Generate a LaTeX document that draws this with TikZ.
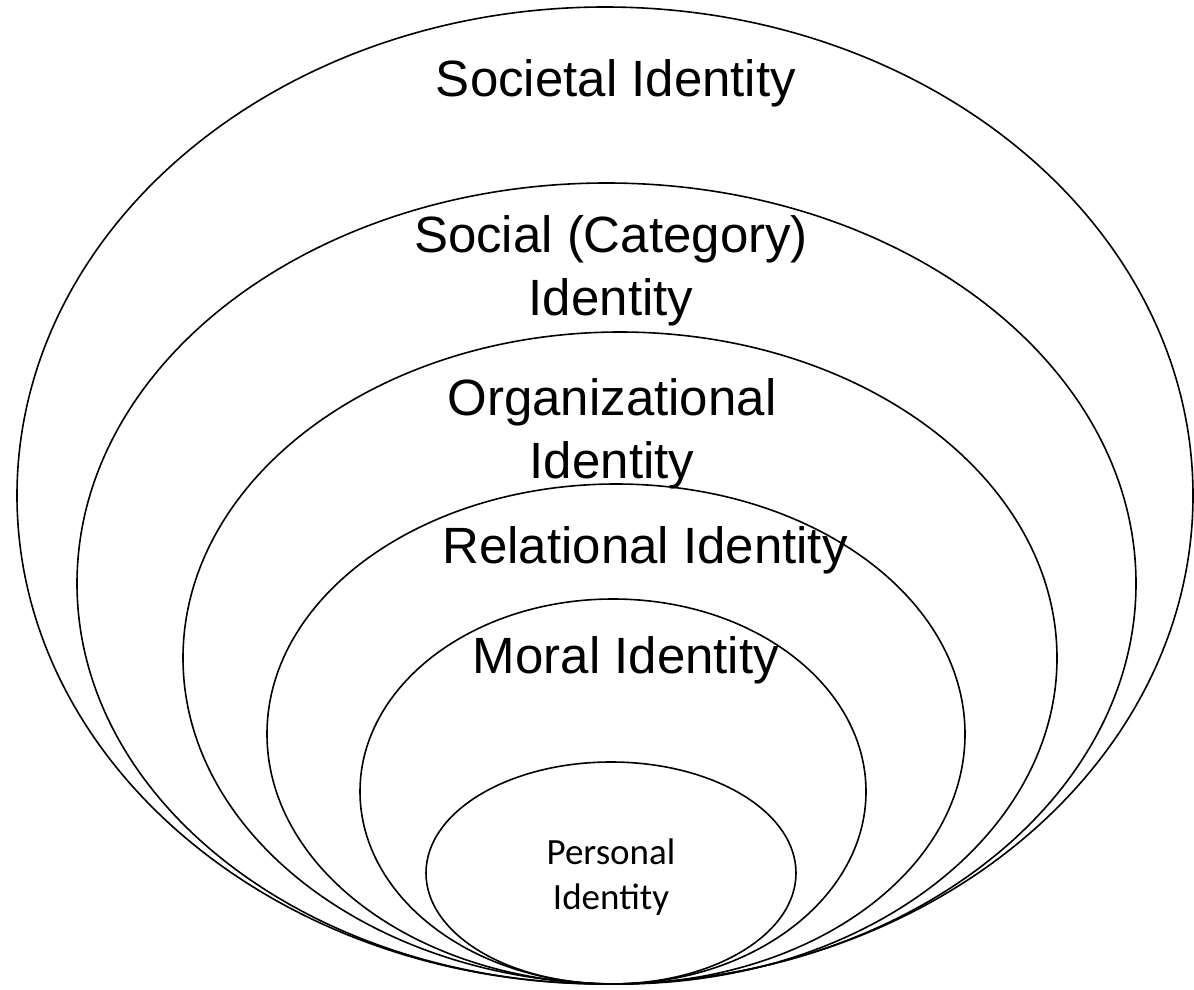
\documentclass[tikz,border=0pt]{standalone}
\usepackage{fontspec}
\setmainfont{Liberation Sans}
\newfontfamily\calibrifont{Carlito}
\begin{document}
\begin{tikzpicture}[x=1pt,y=-1pt,
  ring/.style={draw=black,line width=1.6pt},
  biglabel/.style={font=\fontsize{51}{63}\selectfont,align=center,inner sep=0pt,anchor=base},
  smalllabel/.style={font=\calibrifont\fontsize{37}{45}\selectfont,align=center,inner sep=0pt,anchor=base}]
\useasboundingbox (0,0) rectangle (1194,990);
% rings, outermost first
\draw[ring] (605,495.5) ellipse [x radius=588, y radius=488.5];
\draw[ring] (606.5,583.5) ellipse [x radius=529.5, y radius=400.5];
\draw[ring] (620,658) ellipse [x radius=437, y radius=326];
\draw[ring] (616,734) ellipse [x radius=349, y radius=250];
\draw[ring] (613,791.5) ellipse [x radius=253, y radius=192.5];
\draw[ring] (611,873) ellipse [x radius=185, y radius=111];
% labels (base anchor = baseline of the last line)
\node[biglabel] (societal) at (616,96) {Societal Identity};
\node[biglabel] (social) at (611,315) {Social (Category)\\Identity};
\node[biglabel] (org) at (612,478) {Organizational\\Identity};
\node[biglabel] (rel) at (645,563) {Relational Identity};
\node[biglabel] (moral) at (626,673) {Moral Identity};
\node[smalllabel] (personal) at (611,909) {Personal\\Identity};
\end{tikzpicture}
\end{document}
